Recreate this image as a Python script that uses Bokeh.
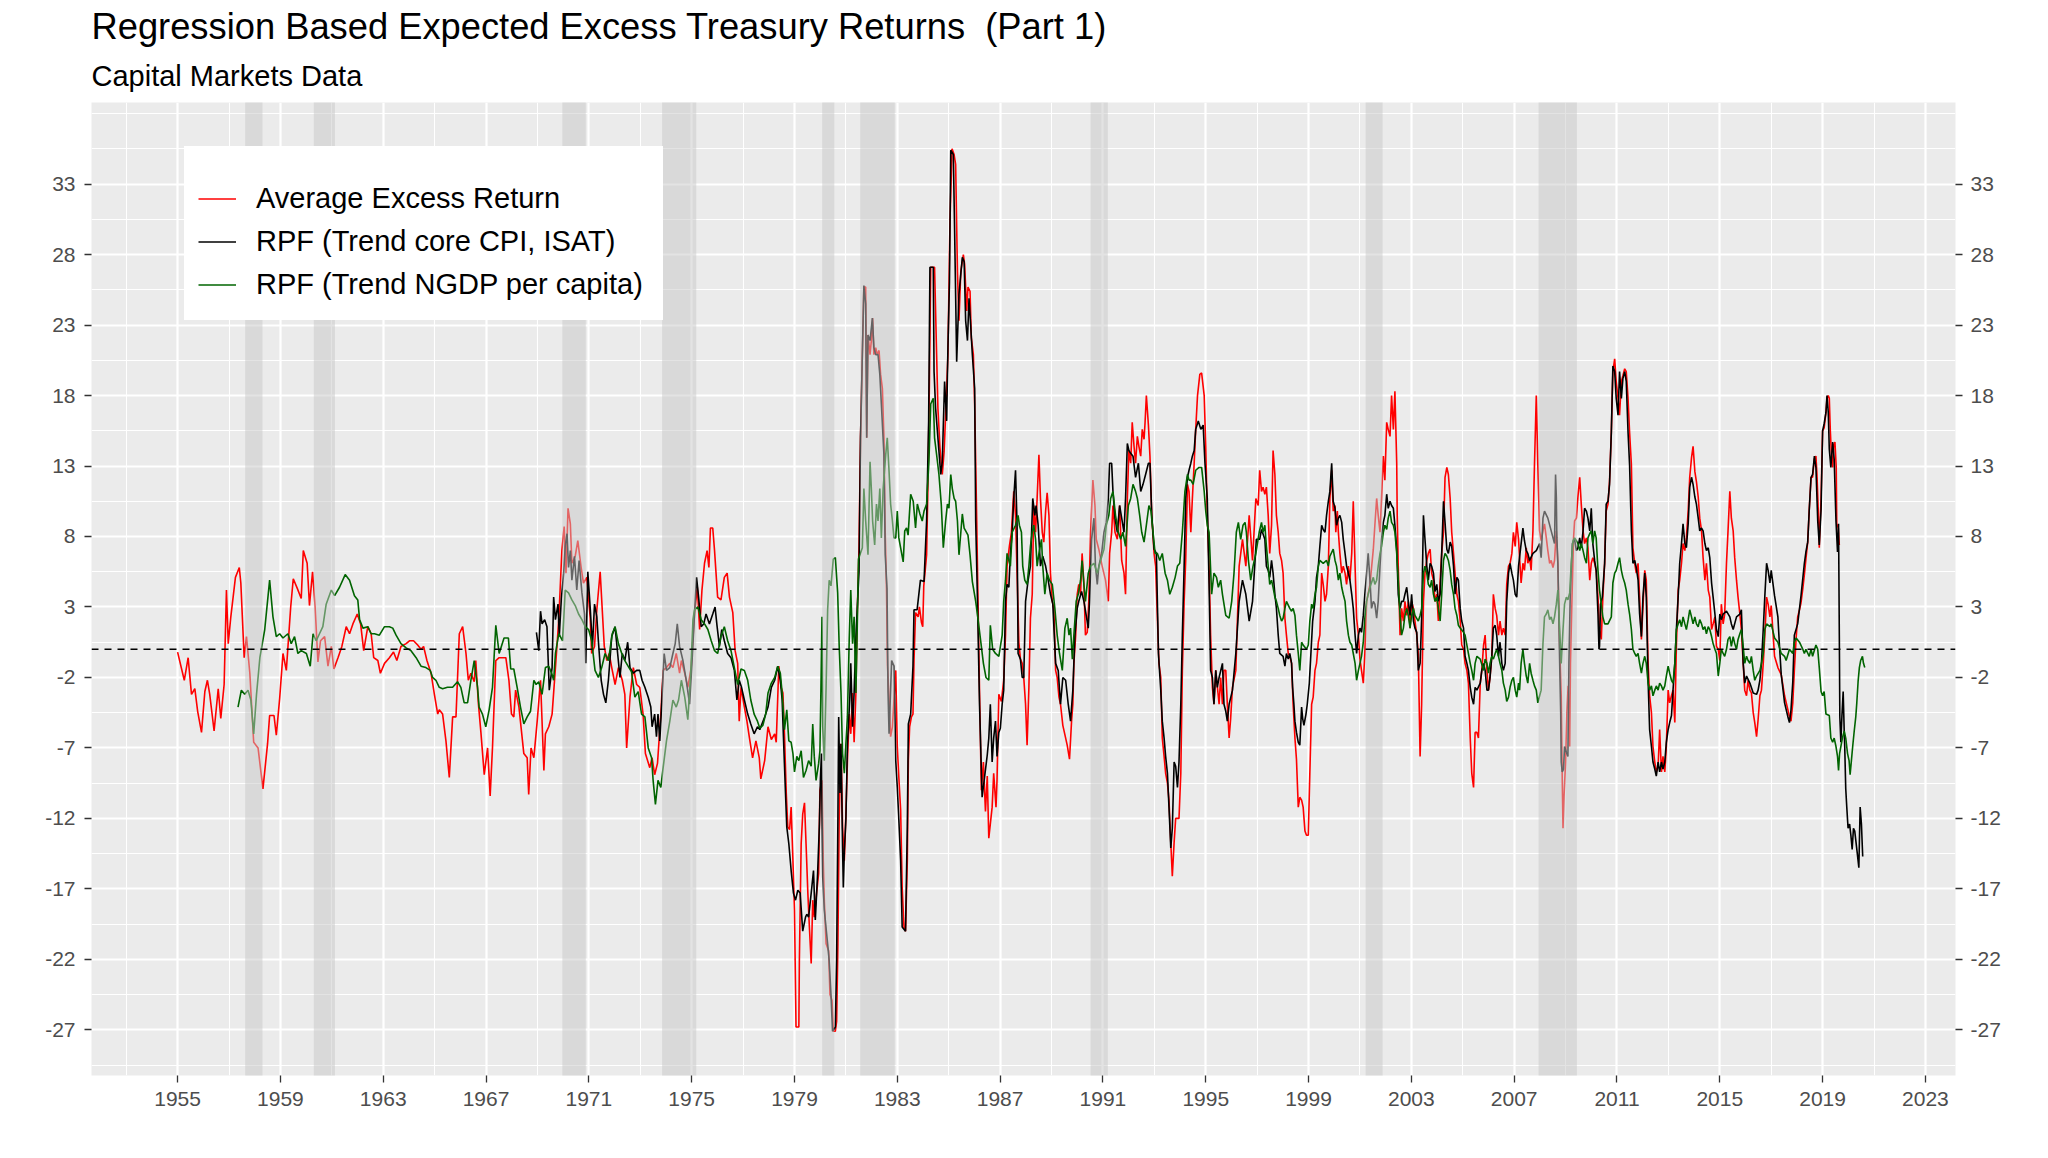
from bokeh.plotting import figure
from bokeh.models import Range1d, FixedTicker, LinearAxis, Legend, LegendItem, Span, Title
from bokeh.embed import file_html
from bokeh.resources import INLINE

TITLE = "Regression Based Expected Excess Treasury Returns \u00a0(Part 1)"
SUBTITLE = "Capital Markets Data"
NAMES = ["Average Excess Return", "RPF (Trend core CPI, ISAT)", "RPF (Trend NGDP per capita)"]
COLORS = ["#FF0000", "#000000", "#006400"]
X_TICKS = list(range(1955, 2024, 4))
Y_TICKS = list(range(-27, 34, 5))

REC_START = [1957.63, 1960.30, 1969.97, 1973.85, 1980.08, 1981.56, 1990.52, 2001.22, 2007.95]
REC_END = [1958.30, 1961.12, 1970.88, 1975.18, 1980.55, 1982.90, 1991.19, 2001.88, 2009.44]

AVG_EXCESS = [
(1955.0,-0.2),(1955.26,-2.2),(1955.41,-0.6),(1955.54,-3.2),(1955.67,-2.8),(1955.78,-4.4),(1955.93,-5.9),(1956.06,-3.0),(1956.16,-2.2),(1956.25,-3.2),(1956.42,-5.8),(1956.58,-2.8),(1956.68,-4.9),(1956.81,-2.5),(1956.9,4.2),(1956.97,0.4),(1957.07,2.3),(1957.25,5.1),(1957.4,5.8),(1957.46,4.7),(1957.59,-0.6),(1957.68,0.9),(1957.81,-1.7),(1957.96,-6.6),(1958.13,-7.0),(1958.32,-9.9),(1958.5,-6.7),(1958.58,-4.7),(1958.75,-4.7),(1958.84,-6.1),(1958.97,-3.5),(1959.1,-0.3),(1959.23,-1.5),(1959.4,3.0),(1959.5,5.0),(1959.66,4.3),(1959.81,3.6),(1959.89,7.0),(1960.04,6.1),(1960.13,3.1),(1960.25,5.5),(1960.35,3.0),(1960.46,-0.9),(1960.56,0.6),(1960.72,0.9),(1960.85,-1.2),(1960.98,0.2),(1961.08,-1.4),(1961.24,-0.6),(1961.39,0.2),(1961.56,1.6),(1961.69,1.1),(1961.82,1.8),(1961.99,2.5),(1962.12,1.8),(1962.24,-0.1),(1962.4,1.6),(1962.53,1.1),(1962.63,-0.6),(1962.79,-0.8),(1962.89,-1.7),(1963.05,-1.0),(1963.24,-0.6),(1963.4,-0.2),(1963.53,-0.8),(1963.69,0.2),(1963.89,0.4),(1964.02,0.6),(1964.18,0.6),(1964.34,0.3),(1964.47,0.0),(1964.57,0.2),(1964.7,-0.8),(1964.86,-1.7),(1964.99,-3.2),(1965.12,-4.6),(1965.18,-4.3),(1965.31,-4.6),(1965.44,-6.5),(1965.57,-9.1),(1965.7,-4.8),(1965.83,-4.8),(1965.96,1.1),(1966.09,1.6),(1966.22,-0.3),(1966.31,-2.2),(1966.41,-1.7),(1966.54,-2.3),(1966.6,-0.8),(1966.7,-3.8),(1966.8,-5.9),(1966.93,-8.9),(1967.06,-7.0),(1967.16,-10.4),(1967.25,-7.0),(1967.38,-0.8),(1967.51,-0.6),(1967.64,-0.6),(1967.77,-0.6),
(1967.89,-2.2),(1967.99,-4.6),(1968.08,-4.8),(1968.15,-2.9),(1968.28,-4.1),(1968.47,-7.4),(1968.6,-7.7),(1968.66,-10.3),(1968.75,-7.0),(1968.86,-7.7),(1968.99,-5.1),(1969.12,-2.2),(1969.25,-8.6),(1969.31,-6.0),(1969.44,-5.5),(1969.57,-4.6),(1969.7,-1.3),(1969.83,2.1),(1969.95,7.0),(1970.04,8.7),(1970.11,5.4),(1970.19,10.0),(1970.28,8.9),(1970.34,6.1),(1970.47,6.6),(1970.57,7.7),(1970.7,5.8),(1970.79,4.7),(1970.92,5.1),(1971.05,2.3),(1971.11,-0.3),(1971.22,0.2),(1971.31,2.8),(1971.44,5.5),(1971.53,2.5),(1971.6,0.2),(1971.7,-0.8),(1971.79,-0.3),(1971.89,-1.3),(1972.02,-2.5),(1972.15,-1.3),(1972.3,-2.2),(1972.4,-3.2),(1972.47,-7.0),(1972.6,-3.4),(1972.73,-1.3),(1972.86,-2.5),(1972.98,-2.7),(1973.11,-4.6),(1973.2,-7.4),(1973.37,-8.4),(1973.46,-7.7),(1973.56,-8.9),(1973.67,-8.1),(1973.8,-4.6),(1973.89,-1.5),(1974.02,-1.3),(1974.15,-1.0),(1974.27,-1.3),(1974.4,-0.3),(1974.53,-1.7),(1974.6,-0.8),(1974.73,-1.7),(1974.85,-2.7),(1974.98,-1.3),(1975.11,2.5),(1975.22,4.4),(1975.31,1.4),(1975.4,4.2),(1975.5,6.1),(1975.6,7.0),(1975.67,5.8),(1975.73,8.6),(1975.82,8.6),(1975.89,7.0),(1976.01,3.7),(1976.14,3.5),(1976.27,5.1),(1976.38,5.4),(1976.47,3.7),(1976.6,2.6),(1976.69,-0.1),(1976.79,-1.0),(1976.85,-5.1),(1976.92,-2.7),(1977.05,-4.1),(1977.15,-5.1),(1977.24,-6.2),(1977.37,-7.7),(1977.5,-6.5),(1977.63,-7.7),(1977.69,-9.2),
(1977.84,-7.9),(1977.97,-5.5),(1978.1,-6.4),(1978.23,-6.0),(1978.29,-6.6),(1978.39,-1.2),(1978.48,-2.7),(1978.55,-3.1),(1978.61,-6.0),(1978.68,-10.2),(1978.74,-12.6),(1978.81,-12.8),(1978.87,-11.2),(1978.94,-15.0),(1979.0,-18.5),(1979.06,-26.8),(1979.17,-26.8),(1979.19,-22.1),(1979.26,-13.8),(1979.32,-11.7),(1979.39,-10.9),(1979.45,-13.8),(1979.52,-17.3),(1979.58,-19.7),(1979.65,-22.3),(1979.71,-17.8),(1979.77,-19.0),(1979.86,-17.3),(1979.94,-15.9),(1979.99,-10.0),(1980.07,-9.3),(1980.12,-15.0),(1980.16,-17.8),(1980.23,-20.9),(1980.33,-21.4),(1980.38,-24.5),(1980.46,-24.9),(1980.51,-27.1),(1980.59,-27.1),(1980.64,-26.4),(1980.69,-20.9),(1980.74,-11.9),(1980.81,-6.7),(1980.87,-12.6),(1980.94,-15.0),(1981.0,-11.7),(1981.06,-7.9),(1981.13,-4.6),(1981.19,-6.0),(1981.26,-3.1),(1981.32,-6.6),(1981.39,-3.1),(1981.43,1.6),
(1981.51,7.2),(1981.57,15.0),(1981.64,20.9),(1981.7,25.7),(1981.77,25.7),(1981.81,15.0),(1981.86,22.3),(1981.94,20.9),(1981.99,21.9),(1982.04,23.5),(1982.09,20.9),(1982.16,21.4),(1982.22,20.9),(1982.29,21.2),(1982.35,19.5),(1982.42,18.5),(1982.48,15.0),(1982.52,9.1),(1982.58,4.3),
(1982.62,-1.2),(1982.68,-3.6),(1982.74,-6.2),(1982.81,-5.5),(1982.87,-3.6),(1982.94,-1.5),(1983.0,-6.9),(1983.06,-9.1),(1983.13,-11.4),(1983.19,-16.9),(1983.26,-19.7),(1983.32,-20.0),(1983.39,-15.0),(1983.43,-7.9),(1983.48,-5.5),(1983.55,-4.8),(1983.61,-4.6),(1983.65,-0.8),(1983.71,2.6),(1983.81,2.3),(1983.86,3.0),(1983.94,1.9),(1983.99,1.6),(1984.03,4.5),
(1984.14,6.7),(1984.19,11.4),(1984.25,19.0),(1984.3,27.1),(1984.45,27.1),(1984.53,20.9),(1984.58,17.1),(1984.66,14.3),(1984.75,12.4),(1984.82,14.0),(1984.88,16.6),(1984.97,20.9),(1985.05,30.4),(1985.13,35.5),(1985.21,35.1),(1985.27,34.4),(1985.34,26.8),(1985.4,23.3),(1985.47,26.8),(1985.57,28.0),(1985.62,27.3),(1985.7,24.0),(1985.75,25.7),(1985.83,25.4),(1985.88,22.1),(1985.96,20.9),(1986.01,17.4),(1986.09,9.1),(1986.14,3.4),
(1986.2,-3.0),(1986.27,-10.0),(1986.35,-8.0),(1986.43,-11.5),(1986.5,-9.0),
(1986.56,-13.4),(1986.69,-11.2),(1986.75,-8.8),(1986.84,-11.2),(1986.88,-9.3),(1986.95,-3.2),(1987.05,-3.7),(1987.14,-2.2),(1987.21,1.0),(1987.27,5.9),(1987.36,7.3),(1987.44,8.3),(1987.53,11.2),(1987.6,9.5),(1987.66,5.4),(1987.73,0.5),(1987.79,-0.7),(1987.86,-1.0),(1987.92,-2.0),(1987.99,-3.9),(1988.05,-6.8),(1988.12,-2.7),(1988.18,2.2),(1988.25,3.9),(1988.31,10.2),(1988.38,8.3),(1988.44,10.7),(1988.51,13.8),(1988.57,10.7),(1988.64,8.3),(1988.7,7.6),(1988.77,9.8),(1988.83,11.1),(1988.9,9.5),(1988.96,5.4),(1989.03,3.4),(1989.09,2.9),(1989.16,-1.5),(1989.22,-2.0),(1989.29,-3.4),(1989.35,-3.9),(1989.44,-5.4),(1989.55,-6.3),(1989.61,-6.8),(1989.7,-7.8),(1989.78,-5.1),(1989.83,-3.9),(1989.87,-1.0),(1989.94,1.0),(1990.0,3.9),(1990.06,4.6),(1990.13,3.9),(1990.19,6.8),(1990.26,4.6),(1990.32,1.0),(1990.39,1.2),(1990.45,3.4),(1990.52,8.3),(1990.61,12.0),(1990.69,10.2),(1990.74,7.8),(1990.84,7.1),(1990.97,5.9),(1991.1,4.9),(1991.21,3.4),(1991.26,6.8),(1991.34,8.3),(1991.39,10.2),(1991.47,8.3),(1991.56,7.8),(1991.65,10.2),(1991.73,6.3),(1991.82,5.4),(1991.88,3.9),(1991.95,10.7),(1992.01,14.1),(1992.08,13.2),(1992.14,16.1),(1992.21,14.4),(1992.27,13.2),(1992.34,15.1),(1992.4,14.4),(1992.47,13.7),(1992.53,15.6),(1992.6,14.9),(1992.64,16.1),(1992.69,18.0),(1992.77,15.9),(1992.83,13.7),(1992.9,9.5),(1992.99,6.8),(1993.05,5.9),(1993.12,2.2),(1993.18,-1.0),(1993.25,-2.0),(1993.31,-6.3),(1993.38,-7.6),(1993.44,-8.8),(1993.51,-9.5),(1993.57,-10.7),(1993.64,-13.7),(1993.7,-16.1),(1993.77,-13.7),(1993.83,-12.0),(1993.96,-12.0),(1994.03,-8.8),(1994.09,-1.5),(1994.16,3.4),(1994.22,6.3),(1994.29,11.7),(1994.35,11.2),(1994.42,8.3),(1994.48,10.7),(1994.55,13.2),(1994.61,15.6),(1994.68,18.0),(1994.77,19.5),(1994.84,19.6),(1994.94,18.0),(1995.0,14.4),(1995.06,9.5),(1995.13,5.9),(1995.19,1.0),(1995.26,-2.7),(1995.32,-3.9),(1995.39,-1.5),(1995.52,-3.9),(1995.58,-2.0),(1995.65,-3.9),(1995.71,-1.5),(1995.78,-1.5),(1995.84,-3.9),(1995.91,-6.3),(1995.97,-4.9),(1996.04,-2.7),(1996.17,-1.5),(1996.3,5.9),(1996.43,7.8),(1996.56,5.9),(1996.69,9.5),(1996.82,6.3),(1996.95,10.7),
(1997.04,10.2),(1997.1,12.7),(1997.17,11.2),(1997.23,11.5),(1997.3,11.0),(1997.36,11.5),(1997.43,9.5),(1997.49,6.8),(1997.56,8.8),(1997.62,14.1),(1997.69,12.4),(1997.75,9.5),(1997.82,8.3),(1997.88,6.8),(1997.95,6.3),(1998.01,5.4),(1998.08,2.2),(1998.14,1.0),(1998.21,-0.3),(1998.27,-0.5),(1998.34,-1.0),(1998.4,-3.9),(1998.47,-6.3),(1998.53,-7.8),(1998.6,-11.2),(1998.66,-10.5),(1998.73,-10.7),(1998.79,-11.2),(1998.86,-12.9),(1998.92,-13.2),(1998.99,-13.2),(1999.05,-8.8),(1999.12,-3.9),(1999.18,-3.4),(1999.25,-1.5),(1999.31,-1.0),(1999.38,0.5),(1999.44,1.0),(1999.51,5.4),(1999.57,4.6),(1999.64,3.4),(1999.7,3.9),(1999.77,5.9),(1999.83,10.7),(1999.9,12.7),(1999.96,9.8),(2000.03,10.2),(2000.06,8.3),(2000.12,9.8),(2000.16,8.3),(2000.22,6.8),(2000.29,5.4),(2000.35,5.9),(2000.42,5.4),(2000.48,4.6),(2000.55,5.9),(2000.61,4.9),(2000.68,6.8),(2000.74,10.5),(2000.81,5.9),(2000.87,2.2),(2000.94,1.0),(2001.0,-0.7),(2001.06,-1.5),(2001.13,-2.4),(2001.19,-0.3),(2001.26,3.4),(2001.39,4.6),(2001.52,7.1),(2001.58,8.8),(2001.65,10.7),(2001.71,9.5),(2001.78,8.3),(2001.84,10.7),(2001.91,13.7),(2001.97,12.0),(2002.04,16.1),(2002.1,15.6),(2002.17,15.1),(2002.23,18.0),(2002.3,15.6),(2002.36,18.3),(2002.43,13.2),(2002.45,9.5),(2002.49,5.9),(2002.56,1.0),(2002.62,2.9),(2002.69,2.0),(2002.75,3.4),(2002.82,2.4),(2002.88,3.4),(2002.95,1.5),(2003.01,3.4),(2003.08,2.9),(2003.14,2.0),(2003.21,1.0),(2003.27,-0.3),(2003.34,-7.6),(2003.4,-3.9),(2003.47,3.4),(2003.53,5.4),(2003.6,6.3),(2003.66,6.8),(2003.73,7.1),(2003.79,5.4),(2003.86,4.9),(2003.92,3.4),(2003.99,3.9),(2004.05,2.0),(2004.12,4.9),(2004.18,6.8),(2004.25,8.3),(2004.31,12.2),(2004.38,12.9),(2004.44,12.4),(2004.51,10.7),(2004.57,8.3),(2004.64,6.8),(2004.7,5.4),(2004.77,3.9),(2004.83,3.4),(2004.9,2.0),(2004.96,0.3),(2005.03,0.0),(2005.09,-1.0),(2005.16,-1.5),(2005.22,-2.4),(2005.29,-6.3),(2005.35,-8.8),(2005.42,-9.8),(2005.48,-5.9),(2005.55,-5.9),(2005.61,-6.3),(2005.68,-2.4),(2005.74,-1.5),(2005.81,0.3),(2005.87,1.0),(2005.94,-1.5),(2006.0,-2.9),(2006.06,-2.0),(2006.13,-0.5),(2006.19,3.9),(2006.26,2.9),(2006.32,2.4),(2006.39,1.0),(2006.45,2.0),(2006.52,1.0),(2006.58,1.5),(2006.65,1.0),(2006.71,4.6),(2006.78,5.9),(2006.84,6.1),(2006.91,6.8),(2006.97,8.3),(2007.04,7.3),(2007.1,9.0),(2007.17,7.8),
(2007.21,6.5),(2007.27,4.7),(2007.34,6.1),(2007.4,5.6),(2007.47,7.2),(2007.53,6.1),(2007.6,6.5),(2007.66,5.6),(2007.73,8.4),(2007.79,13.1),(2007.86,18.0),(2007.92,13.1),(2007.99,8.4),(2008.05,7.7),(2008.12,8.4),(2008.18,8.9),(2008.25,7.9),(2008.31,7.0),(2008.38,6.1),(2008.44,6.3),(2008.51,5.8),(2008.57,6.3),(2008.64,8.4),(2008.7,6.1),(2008.77,0.2),(2008.83,-3.3),(2008.87,-9.2),(2008.9,-12.7),(2008.94,-10.4),(2009.0,-8.0),(2009.05,-4.5),(2009.1,-2.6),(2009.16,-6.9),(2009.19,-1.0),(2009.25,3.7),(2009.31,7.9),(2009.35,9.1),(2009.42,9.3),(2009.48,10.8),(2009.55,12.2),(2009.61,10.3),(2009.68,8.4),(2009.74,7.5),(2009.81,7.9),(2009.87,7.2),(2009.94,4.9),(2010.0,6.1),(2010.06,6.5),(2010.13,6.1),(2010.19,5.6),(2010.26,3.7),(2010.32,1.4),(2010.39,0.7),(2010.45,3.7),(2010.52,6.1),(2010.58,9.8),(2010.65,10.3),(2010.71,11.9),(2010.78,15.4),(2010.84,19.7),(2010.91,20.6),(2010.97,19.0),(2011.04,17.8),(2011.1,16.6),(2011.17,19.0),(2011.23,19.4),(2011.3,19.9),(2011.36,19.7),(2011.43,17.8),(2011.49,15.4),(2011.56,13.1),(2011.62,7.2),(2011.69,6.1),(2011.75,5.4),(2011.82,6.1),(2011.88,3.7),(2011.95,0.7),(2012.01,3.0),(2012.08,5.6),(2012.14,4.9),(2012.21,-1.0),(2012.27,-3.3),(2012.34,-4.5),(2012.4,-6.9),(2012.47,-8.0),(2012.53,-8.7),(2012.6,-8.3),(2012.66,-5.7),(2012.73,-8.7),(2012.79,-7.6),(2012.86,-8.7),(2012.92,-6.9),(2012.99,-2.9),(2013.05,-3.8),(2013.12,-3.3),(2013.18,-2.9),(2013.25,-5.2),(2013.31,0.2),(2013.38,4.2),(2013.44,4.9),(2013.51,6.1),(2013.57,7.5),(2013.64,7.0),(2013.7,7.9),(2013.77,9.8),(2013.83,12.2),(2013.9,13.6),(2013.96,14.4),(2014.03,12.6),(2014.09,11.9),(2014.16,10.8),(2014.22,9.3),(2014.29,8.4),(2014.35,6.5),(2014.42,4.9),(2014.48,6.1),(2014.55,4.2),(2014.61,3.7),(2014.68,1.4),(2014.74,1.8),(2014.81,2.3),(2014.87,0.2),(2014.94,0.0),(2015.0,-0.8),(2015.06,3.2),(2015.13,1.8),(2015.19,2.5),(2015.26,6.1),(2015.32,8.4),(2015.39,11.2),(2015.45,9.3),(2015.52,8.4),(2015.58,6.5),(2015.65,4.9),(2015.71,3.7),(2015.78,2.5),(2015.84,1.4),(2015.91,-1.0),(2015.97,-2.9),(2016.04,-3.3),(2016.1,-2.2),(2016.17,-2.9),(2016.23,-3.1),(2016.3,-4.5),(2016.36,-5.2),(2016.43,-6.2),(2016.49,-5.0),(2016.56,-3.3),(2016.62,-2.9),(2016.69,-1.0),(2016.75,0.9),(2016.82,3.7),(2016.88,3.2),(2016.95,2.3),
(2017.0,3.1),(2017.13,-0.5),(2017.26,-1.3),(2017.39,-1.8),(2017.52,-3.3),(2017.65,-4.3),(2017.71,-4.8),(2017.77,-5.1),(2017.84,-3.8),(2017.9,-1.5),(2017.97,0.8),(2018.03,2.3),(2018.1,2.8),(2018.16,3.3),(2018.23,4.3),(2018.29,5.3),(2018.35,6.4),(2018.42,7.6),(2018.48,9.9),(2018.55,12.2),(2018.61,12.2),(2018.68,13.5),(2018.74,13.7),(2018.78,12.4),(2018.83,9.9),(2018.87,7.2),(2018.94,10.7),(2019.0,15.5),(2019.06,15.7),(2019.13,16.8),(2019.17,17.8),(2019.22,18.0),(2019.26,17.8),(2019.3,15.5),(2019.35,13.5),(2019.39,12.9),(2019.43,14.5),(2019.48,14.7),(2019.53,12.9),(2019.55,8.9),(2019.61,8.6),(2019.65,7.4),
]

RPF_CPI = [
(1968.96,1.2),(1969.05,-0.1),(1969.12,2.7),(1969.18,1.8),(1969.28,2.1),(1969.37,1.6),(1969.46,-2.9),(1969.57,-1.3),(1969.63,3.7),(1969.7,2.1),(1969.8,3.2),(1969.85,0.9),(1969.93,3.6),(1970.02,5.4),(1970.08,7.3),(1970.15,8.2),(1970.21,5.8),(1970.28,7.0),(1970.34,4.9),(1970.44,6.6),(1970.53,4.2),(1970.62,6.3),(1970.73,4.0),(1970.83,2.5),(1970.88,-1.0),(1970.96,5.5),(1971.05,3.0),(1971.14,0.2),(1971.22,3.2),(1971.31,2.3),(1971.37,0.6),(1971.48,-2.2),(1971.57,-3.2),(1971.66,-3.8),(1971.76,-2.2),(1971.89,0.9),(1972.02,1.6),(1972.12,-0.3),(1972.21,-2.0),(1972.3,-0.3),(1972.4,-0.8),(1972.51,0.5),(1972.6,-1.3),(1972.73,-1.7),(1972.86,-1.5),(1972.98,-1.5),(1973.07,-2.2),(1973.18,-2.7),(1973.31,-3.4),(1973.41,-4.1),(1973.46,-5.5),(1973.56,-4.6),(1973.63,-6.2),(1973.69,-4.6),(1973.76,-6.5),(1973.82,-4.4),(1973.93,-0.3),(1974.02,-1.5),(1974.15,-1.3),(1974.27,-0.3),(1974.36,0.4),(1974.44,1.8),(1974.53,0.2),(1974.66,-0.8),(1974.79,-2.2),(1974.92,-3.9),(1975.01,-1.0),(1975.11,2.5),(1975.19,5.1),(1975.27,3.7),(1975.37,1.6),(1975.47,1.8),(1975.56,2.5),(1975.69,1.8),(1975.82,2.5),(1975.91,3.0),(1975.99,1.6),(1976.08,0.2),(1976.17,1.4),(1976.27,0.6),(1976.4,-0.3),(1976.53,-0.6),(1976.66,-1.5),(1976.76,-3.6),(1976.85,-2.2),(1976.94,-2.7),(1977.05,-3.6),(1977.18,-4.6),(1977.3,-5.3),(1977.43,-6.0),(1977.56,-5.5),
(1977.65,-5.7),(1977.84,-4.8),(1977.97,-4.1),(1978.1,-2.7),(1978.23,-2.2),(1978.35,-1.2),(1978.45,-2.2),(1978.52,-3.6),(1978.57,-6.2),(1978.65,-10.2),(1978.7,-12.6),(1978.78,-13.8),(1978.87,-15.7),(1978.96,-17.3),(1979.04,-17.8),(1979.13,-17.1),(1979.22,-17.3),(1979.32,-20.0),(1979.43,-19.0),(1979.48,-18.8),(1979.55,-19.0),(1979.65,-17.3),(1979.74,-15.7),(1979.77,-17.3),(1979.81,-19.2),(1979.9,-15.9),(1979.97,-12.4),(1980.01,-9.1),(1980.05,-7.4),(1980.1,-16.2),(1980.16,-18.5),(1980.29,-20.9),(1980.35,-22.1),(1980.42,-24.5),(1980.48,-27.1),(1980.59,-26.8),(1980.64,-22.1),(1980.69,-11.9),(1980.72,-4.8),(1980.77,-10.2),(1980.81,-6.7),(1980.87,-14.0),(1980.9,-16.9),(1980.94,-14.3),(1981.0,-12.1),(1981.06,-6.7),(1981.15,-3.6),(1981.19,-1.0),(1981.26,-5.5),(1981.32,-3.1),(1981.39,0.9),
(1981.51,5.5),(1981.57,15.0),(1981.64,20.9),(1981.7,25.8),(1981.77,24.5),(1981.81,15.0),(1981.86,22.3),(1981.94,21.9),(1982.03,23.5),(1982.09,21.4),(1982.16,20.9),(1982.25,20.9),(1982.32,19.5),(1982.38,17.4),(1982.48,13.8),(1982.53,6.7),(1982.6,4.3),
(1982.64,-3.1),(1982.68,-6.0),(1982.78,-0.8),(1982.87,-1.2),(1982.94,-7.9),(1983.0,-9.8),(1983.06,-12.1),(1983.13,-15.0),(1983.19,-19.7),(1983.32,-20.0),(1983.39,-12.6),(1983.43,-5.3),(1983.52,-4.6),(1983.61,-1.2),(1983.65,2.8),(1983.77,2.8),(1983.9,4.9),(1984.04,4.8),(1984.14,9.1),(1984.22,16.2),(1984.27,27.1),(1984.4,27.1),(1984.43,19.7),(1984.49,17.1),(1984.58,15.0),(1984.69,12.4),(1984.75,13.3),(1984.84,19.0),(1984.92,16.2),(1984.97,21.4),(1985.03,26.1),(1985.08,35.4),(1985.18,35.1),(1985.23,29.7),(1985.31,20.4),(1985.4,25.2),(1985.53,27.8),(1985.6,27.5),(1985.66,23.3),(1985.73,21.9),(1985.79,24.9),(1985.86,22.8),(1985.92,20.9),(1986.01,18.5),(1986.05,9.1),(1986.12,3.4),(1986.2,-4.0),(1986.3,-10.5),(1986.4,-9.0),(1986.5,-7.5),
(1986.56,-6.3),(1986.62,-3.9),(1986.69,-8.0),(1986.75,-6.3),(1986.82,-5.1),(1986.88,-7.6),(1986.95,-5.9),(1987.01,-5.6),(1987.08,-3.9),(1987.14,-2.9),(1987.21,3.4),(1987.27,4.6),(1987.34,4.4),(1987.4,6.8),(1987.47,8.3),(1987.53,10.7),(1987.6,12.7),(1987.66,8.8),(1987.7,-0.3),(1987.79,-0.7),(1987.86,-2.0),(1987.92,-2.0),(1987.99,3.4),(1988.09,4.9),(1988.18,5.9),(1988.27,10.7),(1988.35,9.5),(1988.4,10.2),(1988.48,8.8),(1988.57,5.9),(1988.66,6.6),(1988.77,5.9),(1988.87,4.9),(1988.96,3.9),(1989.05,3.2),(1989.16,-1.0),(1989.26,-1.5),(1989.35,-3.9),(1989.44,-2.0),(1989.55,-2.2),(1989.65,-3.9),(1989.74,-5.1),(1989.83,-2.9),(1989.91,1.0),(1990.0,2.9),(1990.06,3.4),(1990.17,4.1),(1990.26,3.4),(1990.35,2.4),(1990.43,1.5),(1990.48,3.4),(1990.56,7.8),(1990.65,9.3),(1990.71,5.9),(1990.78,4.6),(1990.84,5.9),(1990.95,6.8),(1991.04,8.3),(1991.13,9.0),(1991.21,10.7),(1991.26,13.2),(1991.34,13.2),(1991.39,11.2),(1991.47,9.3),(1991.56,8.3),(1991.65,10.2),(1991.73,9.3),(1991.82,8.3),(1991.88,10.7),(1991.95,14.6),(1992.01,14.1),(1992.08,13.9),(1992.17,13.7),(1992.27,12.2),(1992.38,13.2),(1992.47,11.2),(1992.56,11.7),(1992.66,12.4),(1992.77,13.2),(1992.83,13.2),(1992.9,9.5),(1992.99,7.1),(1993.08,6.8),(1993.16,-0.3),(1993.25,-2.9),(1993.31,-5.1),(1993.38,-6.3),(1993.44,-7.6),(1993.51,-8.8),(1993.57,-11.2),(1993.64,-14.1),(1993.7,-12.7),(1993.77,-8.0),(1993.83,-8.3),(1993.9,-9.8),(1993.96,-8.0),(1994.03,-3.9),(1994.09,1.0),(1994.16,5.9),(1994.22,10.7),(1994.29,12.2),(1994.35,12.7),(1994.42,13.2),(1994.48,13.7),(1994.55,14.1),(1994.61,15.6),(1994.71,16.2),(1994.81,15.6),(1994.9,15.9),(1994.97,13.2),(1995.06,10.7),(1995.13,4.6),(1995.19,-1.5),(1995.26,-2.0),(1995.32,-3.9),(1995.39,-1.5),(1995.45,-2.7),(1995.52,-2.0),(1995.65,-1.0),(1995.71,-3.9),(1995.78,-4.4),(1995.84,-5.1),(1995.91,-3.9),(1996.04,-2.9),(1996.17,-0.3),(1996.3,3.4),(1996.43,4.9),(1996.56,3.9),(1996.69,2.0),(1996.82,3.4),
(1996.97,7.8),(1997.1,7.8),(1997.17,8.5),(1997.3,7.8),(1997.36,5.9),(1997.43,5.6),(1997.49,5.1),(1997.56,6.3),(1997.62,5.4),(1997.69,3.9),(1997.75,2.9),(1997.82,1.0),(1997.88,-0.3),(1998.01,-0.5),(1998.08,-1.2),(1998.14,-0.3),(1998.21,-0.7),(1998.27,-0.3),(1998.34,-1.0),(1998.38,-2.7),(1998.43,-3.9),(1998.47,-5.1),(1998.53,-5.9),(1998.6,-6.6),(1998.66,-6.8),(1998.73,-4.1),(1998.77,-4.9),(1998.82,-5.4),(1998.9,-4.6),(1998.95,-3.9),(1999.03,-2.4),(1999.08,-0.7),(1999.16,2.0),(1999.25,3.4),(1999.31,5.1),(1999.38,5.9),(1999.44,7.3),(1999.51,8.8),(1999.57,8.5),(1999.64,8.3),(1999.7,9.5),(1999.77,10.5),(1999.83,11.2),(1999.9,13.2),(1999.96,10.5),(2000.03,10.0),(2000.09,8.8),(2000.16,9.3),(2000.22,9.5),(2000.29,9.0),(2000.35,7.8),(2000.42,6.8),(2000.48,5.9),(2000.55,5.4),(2000.61,4.9),(2000.68,3.9),(2000.74,2.9),(2000.81,1.0),(2000.87,-0.3),(2000.94,1.0),(2001.0,1.5),(2001.06,1.2),(2001.13,2.4),(2001.19,3.9),(2001.26,5.4),(2001.32,6.8),(2001.39,4.9),(2001.45,2.9),(2001.52,3.4),(2001.58,3.2),(2001.65,2.2),(2001.71,3.4),(2001.78,5.9),(2001.84,7.8),(2001.91,9.0),(2001.97,9.5),(2002.04,11.0),(2002.1,10.0),(2002.17,10.5),(2002.23,10.2),(2002.3,10.0),(2002.36,8.8),(2002.43,7.1),(2002.49,3.9),(2002.56,2.9),(2002.62,3.4),(2002.69,3.4),(2002.75,3.9),(2002.82,4.4),(2002.88,3.4),(2002.95,2.4),(2003.01,3.9),(2003.08,2.0),(2003.14,1.5),(2003.21,1.2),(2003.27,-1.5),(2003.34,-1.0),(2003.4,2.2),(2003.47,9.5),(2003.53,7.8),(2003.6,5.9),(2003.66,4.9),(2003.73,6.1),(2003.79,5.9),(2003.86,5.4),(2003.92,4.1),(2003.99,4.6),(2004.05,3.4),(2004.12,3.9),(2004.18,6.8),(2004.25,10.5),(2004.31,9.0),(2004.38,7.1),(2004.44,6.8),(2004.51,7.6),(2004.57,7.3),(2004.64,5.9),(2004.7,3.9),(2004.77,5.1),(2004.83,4.9),(2004.9,2.9),(2004.96,2.0),(2005.03,1.5),(2005.09,-0.5),(2005.16,-1.0),(2005.22,-1.5),(2005.29,-2.7),(2005.35,-3.4),(2005.42,-3.9),(2005.48,-2.7),(2005.55,-2.9),(2005.68,-2.4),(2005.74,-1.5),(2005.81,-1.0),(2005.87,-1.5),(2005.94,-2.9),(2006.0,-2.9),(2006.06,-2.0),(2006.13,-0.5),(2006.19,1.5),(2006.26,1.7),(2006.32,1.0),(2006.39,-0.5),(2006.45,0.5),(2006.52,-1.0),(2006.58,-1.5),(2006.65,-1.0),(2006.71,3.4),(2006.78,5.4),(2006.84,6.1),(2006.91,5.4),(2006.97,4.9),(2007.04,3.9),(2007.1,3.7),(2007.17,5.9),
(2007.34,8.6),(2007.4,7.7),(2007.47,7.0),(2007.53,6.8),(2007.6,6.3),(2007.73,6.8),(2007.86,7.0),(2007.99,7.5),(2008.05,6.5),(2008.12,9.3),(2008.18,9.8),(2008.31,9.3),(2008.44,8.4),(2008.57,7.5),(2008.61,12.4),(2008.64,10.8),(2008.66,7.9),(2008.7,6.1),(2008.77,-1.0),(2008.81,-4.5),(2008.83,-8.0),(2008.87,-8.7),(2008.92,-8.5),(2008.96,-6.9),(2009.03,-7.3),(2009.09,-7.6),(2009.13,-1.0),(2009.18,3.7),(2009.26,7.5),(2009.35,7.8),(2009.42,7.0),(2009.48,7.2),(2009.55,7.9),(2009.61,7.2),(2009.68,8.4),(2009.74,10.0),(2009.81,9.8),(2009.87,9.3),(2009.94,8.4),(2010.0,10.0),(2010.06,7.5),(2010.13,6.3),(2010.19,5.6),(2010.26,2.5),(2010.3,0.0),(2010.32,0.2),(2010.36,3.2),(2010.43,3.7),(2010.52,6.1),(2010.58,10.3),(2010.65,10.5),(2010.71,11.7),(2010.78,15.4),(2010.84,20.1),(2010.91,19.7),(2010.97,17.8),(2011.04,16.6),(2011.1,19.7),(2011.17,17.8),(2011.23,19.2),(2011.3,19.7),(2011.36,19.0),(2011.43,15.4),(2011.49,13.1),(2011.56,8.4),(2011.62,6.1),(2011.69,6.3),(2011.75,5.8),(2011.82,4.9),(2011.88,2.5),(2011.95,0.9),(2012.01,3.7),(2012.08,5.4),(2012.14,3.7),(2012.21,-2.2),(2012.27,-5.7),(2012.34,-6.9),(2012.4,-8.0),(2012.47,-8.5),(2012.53,-9.0),(2012.6,-8.0),(2012.66,-8.7),(2012.73,-8.0),(2012.79,-8.5),(2012.86,-8.0),(2012.92,-6.6),(2012.99,-5.7),(2013.05,-5.2),(2013.12,-4.7),(2013.18,-2.9),(2013.25,-1.0),(2013.31,1.4),(2013.38,3.7),(2013.44,6.1),(2013.51,7.5),(2013.57,8.9),(2013.64,7.5),(2013.7,7.2),(2013.77,8.9),(2013.83,11.5),(2013.9,12.2),(2013.96,11.7),(2014.03,10.8),(2014.09,10.3),(2014.16,9.3),(2014.22,8.4),(2014.29,8.6),(2014.35,8.4),(2014.42,7.5),(2014.48,7.0),(2014.55,7.2),(2014.61,6.5),(2014.68,4.7),(2014.74,3.7),(2014.81,2.5),(2014.87,1.4),(2014.94,0.9),(2015.0,2.5),(2015.06,2.1),(2015.13,2.5),(2015.26,2.7),(2015.39,2.3),(2015.45,1.8),(2015.52,1.4),(2015.65,2.3),(2015.78,2.5),(2015.84,2.8),(2015.91,-1.0),(2015.97,-2.4),(2016.04,-1.9),(2016.17,-2.4),(2016.3,-3.1),(2016.43,-3.2),(2016.49,-2.9),(2016.56,-2.2),(2016.62,-1.0),(2016.69,1.4),(2016.75,3.7),(2016.82,6.1),(2016.88,5.6),(2016.95,4.7),
(2017.0,5.6),(2017.13,3.8),(2017.26,2.3),(2017.32,0.3),(2017.39,-1.8),(2017.52,-3.8),(2017.65,-4.8),(2017.71,-5.2),(2017.77,-4.3),(2017.84,-2.3),(2017.9,1.0),(2018.03,1.8),(2018.16,3.8),(2018.29,6.1),(2018.35,6.9),(2018.42,7.6),(2018.48,9.9),(2018.55,12.2),(2018.61,12.4),(2018.68,13.7),(2018.74,12.9),(2018.81,9.1),(2018.87,7.4),(2018.94,9.9),(2019.0,15.5),(2019.06,16.0),(2019.13,16.8),(2019.17,18.0),(2019.22,16.8),(2019.26,14.2),(2019.32,12.9),(2019.39,14.7),(2019.45,13.5),(2019.52,9.1),(2019.58,6.9),(2019.62,8.9),(2019.65,1.0),(2019.67,-4.8),(2019.71,-6.6),(2019.75,-4.8),(2019.8,-3.0),(2019.84,-5.8),(2019.86,-6.9),(2019.9,-9.9),(2019.94,-11.2),(2019.99,-12.7),(2020.05,-12.4),(2020.1,-13.2),(2020.15,-14.2),(2020.2,-12.7),(2020.25,-12.9),(2020.3,-13.7),(2020.35,-14.5),(2020.41,-15.5),(2020.46,-11.2),(2020.51,-12.4),(2020.56,-14.7),
]

RPF_NGDP = [
(1957.35,-4.1),(1957.48,-2.9),(1957.61,-3.2),(1957.74,-2.9),(1957.85,-3.6),(1957.96,-6.0),(1958.07,-3.2),(1958.2,-0.6),(1958.39,1.4),(1958.58,4.9),(1958.71,2.3),(1958.84,0.9),(1958.97,1.1),(1959.1,0.8),(1959.29,1.1),(1959.42,0.4),(1959.55,0.9),(1959.68,-0.3),(1959.81,-0.1),(1960.01,-0.3),(1960.16,-1.2),(1960.27,1.1),(1960.39,0.6),(1960.52,1.1),(1960.65,1.6),(1960.78,3.2),(1960.98,4.2),(1961.11,3.8),(1961.3,4.4),(1961.52,5.3),(1961.69,4.9),(1961.88,3.8),(1962.01,3.5),(1962.08,2.1),(1962.21,1.5),(1962.4,1.6),(1962.53,1.1),(1962.66,1.1),(1962.85,1.0),(1963.05,1.6),(1963.24,1.6),(1963.37,1.5),(1963.5,1.0),(1963.69,0.4),(1963.89,0.1),(1964.08,-0.1),(1964.28,-0.6),(1964.47,-1.2),(1964.66,-1.3),(1964.83,-1.5),(1964.92,-2.0),(1965.05,-2.2),(1965.18,-2.7),(1965.31,-2.8),(1965.5,-2.7),(1965.7,-2.7),(1965.89,-2.3),(1966.02,-2.7),(1966.15,-3.8),(1966.28,-3.8),(1966.41,-2.2),(1966.54,-0.8),(1966.67,-2.7),(1966.73,-4.1),(1966.86,-4.6),(1966.99,-5.5),(1967.12,-4.3),(1967.25,-2.7),(1967.38,1.7),(1967.51,-0.3),(1967.7,0.8),
(1967.87,0.8),(1967.96,-1.4),(1968.08,-1.4),(1968.21,-2.7),(1968.34,-4.1),(1968.47,-5.3),(1968.6,-4.8),(1968.73,-4.4),(1968.86,-2.2),(1968.95,-2.5),(1969.05,-2.3),(1969.18,-3.2),(1969.31,-1.3),(1969.44,-1.2),(1969.57,-1.8),(1969.63,-2.2),(1969.7,-0.3),(1969.83,1.1),(1969.98,0.6),(1970.08,4.2),(1970.21,4.0),(1970.34,3.5),(1970.47,3.1),(1970.6,2.5),(1970.73,2.1),(1970.86,1.6),(1970.99,1.4),(1971.11,0.6),(1971.24,-1.5),(1971.37,-2.0),(1971.5,-1.3),(1971.63,-0.3),(1971.76,-0.8),(1971.91,1.1),(1972.02,1.6),(1972.15,0.4),(1972.28,-0.3),(1972.4,-0.8),(1972.56,-1.3),(1972.66,-1.6),(1972.79,-3.4),(1972.92,-3.0),(1973.05,-4.6),(1973.18,-4.8),(1973.31,-7.0),(1973.44,-7.7),(1973.5,-9.3),(1973.59,-11.0),(1973.69,-9.3),(1973.8,-9.8),(1973.89,-8.4),(1974.02,-6.5),(1974.15,-5.1),(1974.27,-3.6),(1974.4,-4.1),(1974.49,-3.6),(1974.6,-2.2),(1974.73,-3.4),(1974.85,-5.0),(1974.96,-1.8),(1975.05,2.1),(1975.11,2.8),(1975.24,3.0),(1975.37,2.1),(1975.5,1.8),(1975.63,1.4),(1975.76,0.6),(1975.89,-0.1),(1976.01,-0.3),(1976.14,0.9),(1976.27,1.6),(1976.4,0.6),(1976.53,-0.1),(1976.66,-1.3),(1976.79,-2.5),(1976.92,-1.4),(1977.05,-1.5),(1977.18,-2.2),(1977.3,-3.6),(1977.43,-4.6),(1977.56,-5.1),
(1977.65,-5.6),(1977.77,-5.4),(1977.88,-4.6),(1977.97,-3.1),(1978.1,-2.4),(1978.23,-2.0),(1978.35,-1.2),(1978.45,-1.7),(1978.52,-3.1),(1978.61,-5.7),(1978.7,-4.3),(1978.78,-6.5),(1978.87,-6.6),(1978.94,-7.4),(1979.0,-8.7),(1979.09,-7.6),(1979.17,-7.9),(1979.26,-7.2),(1979.35,-9.1),(1979.45,-8.6),(1979.55,-7.9),(1979.65,-8.3),(1979.71,-5.3),(1979.77,-7.6),(1979.84,-9.3),(1979.94,-8.1),(1979.99,-7.2),(1980.03,-2.7),(1980.07,2.3),(1980.1,-5.5),(1980.16,-7.9),(1980.23,-2.7),(1980.29,2.8),(1980.35,4.9),(1980.42,4.5),(1980.51,6.4),(1980.59,6.5),(1980.68,4.0),(1980.74,0.2),(1980.81,-3.1),(1980.87,-7.4),(1980.94,-8.8),(1981.0,-6.7),(1981.06,-4.8),(1981.13,0.7),(1981.19,4.2),(1981.26,0.4),(1981.32,2.3),(1981.39,-3.1),(1981.43,0.4),(1981.49,6.4),
(1981.64,7.2),(1981.7,11.4),(1981.77,9.1),(1981.86,6.7),(1981.94,13.3),(1981.99,11.4),(1982.04,9.1),(1982.12,7.4),(1982.19,10.3),(1982.25,9.1),(1982.32,11.4),(1982.38,7.9),(1982.45,11.4),(1982.55,13.8),(1982.61,15.0),(1982.68,12.6),(1982.74,10.3),(1982.81,9.1),(1982.87,7.9),(1982.94,7.9),(1983.0,9.8),(1983.06,7.9),(1983.13,7.2),(1983.23,6.2),(1983.29,8.4),(1983.36,8.6),(1983.42,8.1),(1983.52,11.0),(1983.62,10.5),(1983.71,8.6),(1983.78,10.3),(1983.88,9.6),(1983.97,9.1),(1984.04,9.8),(1984.14,10.3),(1984.23,13.3),(1984.3,17.4),(1984.4,17.8),(1984.45,15.0),(1984.53,13.8),(1984.62,12.4),(1984.71,10.3),(1984.79,7.2),(1984.88,9.1),(1984.95,10.3),(1985.01,10.0),(1985.08,12.4),(1985.14,11.4),(1985.21,10.7),(1985.27,10.5),(1985.34,9.1),(1985.4,6.7),(1985.53,9.6),(1985.6,8.6),(1985.66,8.4),(1985.75,8.1),(1985.83,6.7),(1985.92,4.8),(1986.05,3.4),(1986.15,2.0),(1986.25,0.5),(1986.35,-1.0),(1986.45,-2.0),
(1986.56,-2.2),(1986.62,1.7),(1986.71,0.0),(1986.82,-0.3),(1986.95,-0.5),(1987.08,1.0),(1987.14,3.4),(1987.21,4.9),(1987.27,6.8),(1987.34,6.3),(1987.4,5.9),(1987.47,8.3),(1987.6,8.8),(1987.7,9.5),(1987.75,8.8),(1987.83,8.3),(1987.88,5.9),(1987.96,4.9),(1988.05,4.6),(1988.12,5.9),(1988.18,7.3),(1988.25,8.3),(1988.31,8.8),(1988.38,7.8),(1988.44,5.9),(1988.51,6.8),(1988.61,7.8),(1988.66,5.9),(1988.74,3.9),(1988.83,5.4),(1988.92,4.9),(1989.03,4.6),(1989.13,2.9),(1989.22,1.0),(1989.31,-0.3),(1989.42,-1.5),(1989.52,1.5),(1989.61,2.2),(1989.68,1.0),(1989.74,1.5),(1989.81,-0.7),(1989.87,1.0),(1989.96,3.4),(1990.04,3.9),(1990.13,4.9),(1990.19,6.3),(1990.26,4.6),(1990.32,3.4),(1990.43,5.4),(1990.52,5.9),(1990.65,6.1),(1990.78,5.4),(1990.91,6.3),(1991.04,7.1),(1991.13,8.8),(1991.23,9.5),(1991.3,10.7),(1991.39,11.2),(1991.49,9.5),(1991.6,8.3),(1991.69,7.8),(1991.78,8.3),(1991.88,7.3),(1991.99,10.2),(1992.08,10.7),(1992.17,11.7),(1992.27,11.2),(1992.34,10.7),(1992.43,9.5),(1992.51,8.3),(1992.6,7.6),(1992.69,8.8),(1992.79,10.2),(1992.87,9.8),(1992.95,8.3),(1993.03,6.8),(1993.12,6.8),(1993.21,6.3),(1993.31,6.8),(1993.42,5.4),(1993.51,4.9),(1993.6,3.9),(1993.7,4.4),(1993.81,5.1),(1993.9,5.9),(1993.99,6.1),(1994.09,8.3),(1994.19,11.2),(1994.29,12.4),(1994.35,12.0),(1994.42,12.0),(1994.51,11.7),(1994.61,12.7),(1994.74,12.9),(1994.84,12.9),(1994.94,11.2),(1995.0,9.8),(1995.06,8.8),(1995.13,8.3),(1995.23,3.9),(1995.32,5.4),(1995.42,5.1),(1995.49,4.4),(1995.58,4.9),(1995.65,3.9),(1995.78,2.4),(1995.91,2.2),(1996.01,3.4),(1996.1,5.4),(1996.19,8.3),(1996.27,9.0),(1996.36,7.8),(1996.45,8.8),(1996.53,9.0),(1996.58,8.3),(1996.66,6.3),(1996.75,4.9),(1996.84,5.9),(1996.95,6.8),
(1997.08,8.3),(1997.17,9.0),(1997.23,8.3),(1997.3,8.8),(1997.36,7.3),(1997.43,5.9),(1997.49,4.6),(1997.56,4.9),(1997.62,4.4),(1997.69,3.7),(1997.75,3.4),(1997.82,2.9),(1997.88,2.4),(1997.95,2.0),(1998.01,2.2),(1998.08,2.9),(1998.14,3.4),(1998.27,2.9),(1998.34,2.7),(1998.4,2.9),(1998.47,2.4),(1998.53,1.0),(1998.6,-0.3),(1998.66,-1.5),(1998.73,0.5),(1998.79,0.3),(1998.92,0.0),(1998.99,0.3),(1999.05,2.0),(1999.12,3.2),(1999.18,2.9),(1999.25,3.9),(1999.31,4.4),(1999.38,5.9),(1999.44,6.3),(1999.57,6.1),(1999.7,6.3),(1999.77,5.9),(1999.83,6.6),(1999.96,7.1),(2000.03,6.3),(2000.09,5.9),(2000.16,4.9),(2000.22,5.4),(2000.29,4.4),(2000.35,3.9),(2000.42,3.4),(2000.48,2.0),(2000.55,1.0),(2000.61,0.5),(2000.68,0.3),(2000.74,-0.3),(2000.81,-1.0),(2000.87,-2.2),(2000.94,-1.5),(2001.0,-1.0),(2001.06,-0.5),(2001.13,0.5),(2001.19,2.2),(2001.26,3.4),(2001.32,3.9),(2001.39,4.4),(2001.52,5.1),(2001.58,4.6),(2001.65,4.9),(2001.71,5.9),(2001.78,6.8),(2001.84,7.3),(2001.91,8.3),(2001.97,8.8),(2002.04,8.5),(2002.1,9.3),(2002.17,9.8),(2002.23,9.0),(2002.3,8.8),(2002.36,8.3),(2002.43,6.8),(2002.49,4.9),(2002.56,2.4),(2002.62,1.0),(2002.69,1.5),(2002.75,2.4),(2002.82,2.9),(2002.88,2.4),(2002.95,1.5),(2003.01,2.4),(2003.08,2.9),(2003.14,2.4),(2003.27,2.0),(2003.34,2.4),(2003.4,2.9),(2003.47,5.4),(2003.53,5.9),(2003.6,5.4),(2003.66,4.6),(2003.73,4.4),(2003.79,4.9),(2003.86,3.9),(2003.92,3.4),(2003.99,3.7),(2004.05,2.9),(2004.12,2.0),(2004.18,3.9),(2004.25,6.3),(2004.31,6.8),(2004.38,6.6),(2004.44,6.3),(2004.51,5.6),(2004.57,4.6),(2004.64,3.9),(2004.7,2.9),(2004.77,2.4),(2004.83,1.7),(2004.9,1.5),(2005.03,1.2),(2005.09,1.0),(2005.16,0.3),(2005.22,-0.3),(2005.29,-1.0),(2005.35,-1.5),(2005.42,-2.2),(2005.48,-1.0),(2005.55,-0.5),(2005.68,-0.7),(2005.81,-1.5),(2005.87,-0.7),(2005.94,-1.0),(2006.0,-1.7),(2006.06,-1.0),(2006.13,-0.5),(2006.19,-0.7),(2006.26,-0.3),(2006.32,0.0),(2006.39,-0.5),(2006.45,-1.0),(2006.52,-1.5),(2006.58,-2.4),(2006.65,-2.9),(2006.71,-3.7),(2006.78,-3.4),(2006.84,-2.7),(2006.91,-2.2),(2006.97,-2.0),(2007.04,-2.9),(2007.1,-3.4),(2007.17,-2.4),
(2007.21,-2.9),(2007.27,-1.0),(2007.34,0.0),(2007.4,-1.0),(2007.47,-1.9),(2007.53,-2.4),(2007.6,-1.0),(2007.66,-1.7),(2007.73,-2.2),(2007.79,-2.6),(2007.86,-2.9),(2007.92,-3.8),(2007.99,-3.3),(2008.05,-2.9),(2008.12,0.4),(2008.18,2.3),(2008.25,2.5),(2008.31,2.8),(2008.38,2.1),(2008.44,2.3),(2008.51,1.8),(2008.57,2.3),(2008.64,3.2),(2008.7,4.2),(2008.77,1.4),(2008.83,-1.0),(2008.9,1.4),(2008.96,3.2),(2009.03,3.7),(2009.09,3.5),(2009.16,4.0),(2009.22,6.1),(2009.29,7.7),(2009.35,7.9),(2009.42,7.7),(2009.48,7.5),(2009.55,7.0),(2009.61,7.5),(2009.68,7.0),(2009.74,6.5),(2009.81,6.1),(2009.87,7.9),(2009.94,8.2),(2010.0,8.4),(2010.06,7.5),(2010.13,8.4),(2010.19,7.9),(2010.26,5.6),(2010.32,4.2),(2010.39,3.2),(2010.45,2.3),(2010.52,1.8),(2010.65,1.8),(2010.78,2.3),(2010.84,4.7),(2010.91,5.4),(2010.97,5.6),(2011.04,6.1),(2011.1,6.5),(2011.17,5.6),(2011.23,5.1),(2011.3,4.7),(2011.36,4.2),(2011.43,3.2),(2011.49,2.5),(2011.56,1.4),(2011.62,0.0),(2011.69,-0.3),(2011.75,-0.5),(2011.82,-0.3),(2011.88,-1.0),(2011.95,-1.7),(2012.01,-1.0),(2012.08,-0.5),(2012.14,-1.0),(2012.21,-2.4),(2012.27,-2.9),(2012.34,-2.6),(2012.4,-3.3),(2012.47,-2.9),(2012.53,-2.6),(2012.6,-2.9),(2012.66,-2.4),(2012.73,-2.6),(2012.79,-2.9),(2012.86,-2.6),(2012.92,-1.9),(2012.99,-1.2),(2013.05,-1.7),(2013.12,-2.2),(2013.18,-2.4),(2013.25,-1.0),(2013.31,1.4),(2013.38,1.8),(2013.44,2.1),(2013.51,1.6),(2013.57,2.3),(2013.64,1.8),(2013.7,1.4),(2013.77,2.1),(2013.83,2.8),(2013.9,2.3),(2013.96,1.8),(2014.03,2.3),(2014.09,1.8),(2014.16,1.6),(2014.22,2.1),(2014.29,1.8),(2014.35,1.4),(2014.42,1.6),(2014.48,1.1),(2014.55,1.6),(2014.61,1.4),(2014.68,0.9),(2014.74,0.4),(2014.81,0.0),(2014.87,-0.3),(2014.94,-1.9),(2015.0,-1.0),(2015.06,0.0),(2015.13,-0.3),(2015.19,-0.5),(2015.26,0.0),(2015.32,0.7),(2015.39,0.9),(2015.45,0.2),(2015.52,0.9),(2015.58,0.4),(2015.65,0.0),(2015.71,0.7),(2015.78,1.1),(2015.84,1.4),(2015.91,0.2),(2015.97,-1.0),(2016.04,-0.5),(2016.1,-0.8),(2016.17,-1.0),(2016.23,-0.5),(2016.3,-1.5),(2016.36,-2.2),(2016.43,-1.9),(2016.56,-1.5),(2016.62,-1.0),(2016.69,-0.3),(2016.75,1.4),(2016.82,1.8),(2016.95,1.6),
(2017.0,1.8),(2017.13,0.8),(2017.26,0.5),(2017.39,-0.3),(2017.52,-0.5),(2017.58,-0.8),(2017.71,0.0),(2017.84,-0.3),(2017.9,0.5),(2017.97,0.8),(2018.1,0.5),(2018.23,0.0),(2018.29,-0.3),(2018.35,0.0),(2018.48,-0.5),(2018.55,0.0),(2018.61,-0.5),(2018.74,0.3),(2018.81,0.0),(2018.87,-1.3),(2018.94,-3.0),(2019.0,-3.3),(2019.06,-3.0),(2019.13,-4.6),(2019.26,-4.7),(2019.32,-6.3),(2019.39,-6.6),(2019.45,-6.3),(2019.52,-6.9),(2019.58,-7.6),(2019.62,-8.6),(2019.66,-7.4),(2019.71,-6.9),(2019.77,-6.3),(2019.84,-5.8),(2019.9,-6.3),(2019.97,-7.4),(2020.03,-7.9),(2020.07,-8.9),(2020.12,-7.9),(2020.17,-6.9),(2020.23,-5.8),(2020.29,-4.8),(2020.33,-3.8),(2020.38,-2.3),(2020.43,-1.3),(2020.48,-0.8),(2020.55,-0.5),(2020.59,-1.0),(2020.64,-1.3),
]

FONT = "Liberation Sans"

p = figure(width=2032, height=1142,
           x_range=Range1d(1951.65, 2024.17), y_range=Range1d(-30.24, 38.79),
           output_backend="svg", toolbar_location=None,
           background_fill_color="#EBEBEB", border_fill_color="white",
           outline_line_color=None,
           min_border_left=91, min_border_right=77, min_border_top=102, min_border_bottom=67)
try:
    p.title = None
except Exception:
    p.title.text = ""

sub = Title(text=SUBTITLE, text_font=FONT, text_font_size="29px", text_font_style="normal",
            text_color="black", align="left", standoff=21)
main = Title(text=TITLE, text_font=FONT, text_font_size="36.3px", text_font_style="normal",
             text_color="black", align="left", standoff=1)
p.add_layout(sub, "above")
p.add_layout(main, "above")

x_minor = [t - 2 for t in X_TICKS] + [X_TICKS[-1] + 2]
y_minor = [Y_TICKS[0] - 2.5 + 2.5 * k for k in range(28)]
y_labels = {t: str(t) for t in Y_TICKS}

p.xaxis.ticker = FixedTicker(ticks=X_TICKS, minor_ticks=x_minor)
p.yaxis.ticker = FixedTicker(ticks=Y_TICKS, minor_ticks=y_minor)
p.yaxis.major_label_overrides = y_labels
right_axis = LinearAxis(ticker=FixedTicker(ticks=Y_TICKS, minor_ticks=y_minor))
right_axis.major_label_overrides = y_labels
p.add_layout(right_axis, "right")

for ax in [p.xaxis[0], p.yaxis[0], right_axis]:
    ax.axis_line_color = None
    ax.major_tick_line_color = "#333333"
    ax.major_tick_line_width = 1.3
    ax.major_tick_out = 7
    ax.major_tick_in = 0
    ax.minor_tick_line_color = None
    ax.major_label_text_font = FONT
    ax.major_label_text_font_size = "21px"
    ax.major_label_text_color = "#4D4D4D"
p.xaxis[0].major_label_standoff = 9
p.yaxis[0].major_label_standoff = 9
right_axis.major_label_standoff = 8

for g in [p.xgrid[0], p.ygrid[0]]:
    g.grid_line_color = "white"
    g.grid_line_width = 2.2
    g.minor_grid_line_color = "white"
    g.minor_grid_line_width = 1.1

renderers = []
for data, color in zip([AVG_EXCESS, RPF_CPI, RPF_NGDP], COLORS):
    xs = [d[0] for d in data]
    ys = [d[1] for d in data]
    r = p.line(xs, ys, line_color=color, line_width=1.6)
    renderers.append(r)

p.quad(left=REC_START, right=REC_END, bottom=-35, top=45,
       fill_color="#C8C8C8", fill_alpha=0.5, line_color=None)

p.add_layout(Span(location=0, dimension="width", line_color="black",
                  line_width=1.3, line_dash="7 6"))

legend = Legend(items=[LegendItem(label=n, renderers=[r]) for n, r in zip(NAMES, renderers)],
                location=(93, 755))
legend.label_text_font = FONT
legend.label_text_font_size = "29px"
legend.label_text_color = "black"
legend.glyph_width = 38
legend.glyph_height = 43
legend.label_height = 43
legend.label_width = 393
legend.label_standoff = 20
legend.spacing = 0
legend.padding = 13
legend.margin = 0
legend.border_line_color = "white"
legend.border_line_width = 1
legend.background_fill_color = "white"
legend.background_fill_alpha = 1.0
legend.title = "\u00a0"
legend.title_text_font_size = "10px"
legend.title_standoff = 6
p.add_layout(legend)

open("out.html", "w").write(file_html(p, INLINE))
